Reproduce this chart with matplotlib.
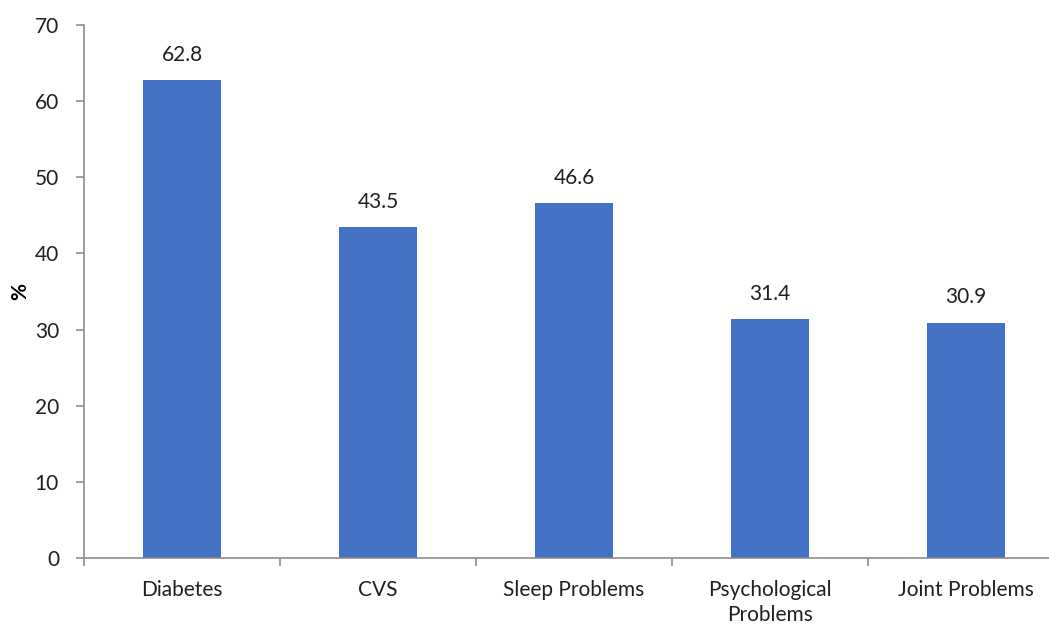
import numpy as np
import matplotlib
matplotlib.use("Agg")
import matplotlib.pyplot as plt

plt.rcParams['font.family'] = ['Lato', 'DejaVu Sans']

categories = ['Diabetes', 'CVS', 'Sleep Problems', 'Psychological\nProblems', 'Joint Problems']
values = [62.8, 43.5, 46.6, 31.4, 30.9]

fig = plt.figure(figsize=(10.49, 6.26), dpi=100)
# axis runs past the right edge, like the original export
ax = fig.add_axes([84 / 1049, (626 - 558) / 626, 980 / 1049, 533 / 626])

x = np.arange(len(categories))
ax.bar(x, values, width=0.4, color='#4472C4', zorder=2)

for xi, v in zip(x, values):
    ax.annotate(f'{v:.1f}', (xi, v), xytext=(0, 11), textcoords='offset points',
                ha='center', va='bottom', fontsize=15, color='#202020')

ax.set_xlim(-0.5, len(categories) - 0.5)
ax.set_ylim(0, 70)
ax.set_yticks(range(0, 71, 10))
ax.set_xticks(x)
ax.set_xticklabels(categories, fontsize=15, color='#202020', va='top', linespacing=1.3)
ax.tick_params(axis='x', length=0, pad=16)
ax.set_xticks(np.arange(-0.5, len(categories), 1), minor=True)
ax.tick_params(axis='x', which='minor', length=6, color='#8c8c8c', width=1.2)
ax.tick_params(axis='y', length=6, color='#8c8c8c', width=1.2, labelsize=15,
               labelcolor='#202020', pad=12)

for side in ['top', 'right']:
    ax.spines[side].set_visible(False)
for side in ['left', 'bottom']:
    ax.spines[side].set_color('#8c8c8c')
    ax.spines[side].set_linewidth(1.2)

ax.set_ylabel('%', fontsize=15, fontweight='bold')
ax.yaxis.set_label_coords(-0.055, 0.5)

fig.savefig('out.png', dpi=100)
